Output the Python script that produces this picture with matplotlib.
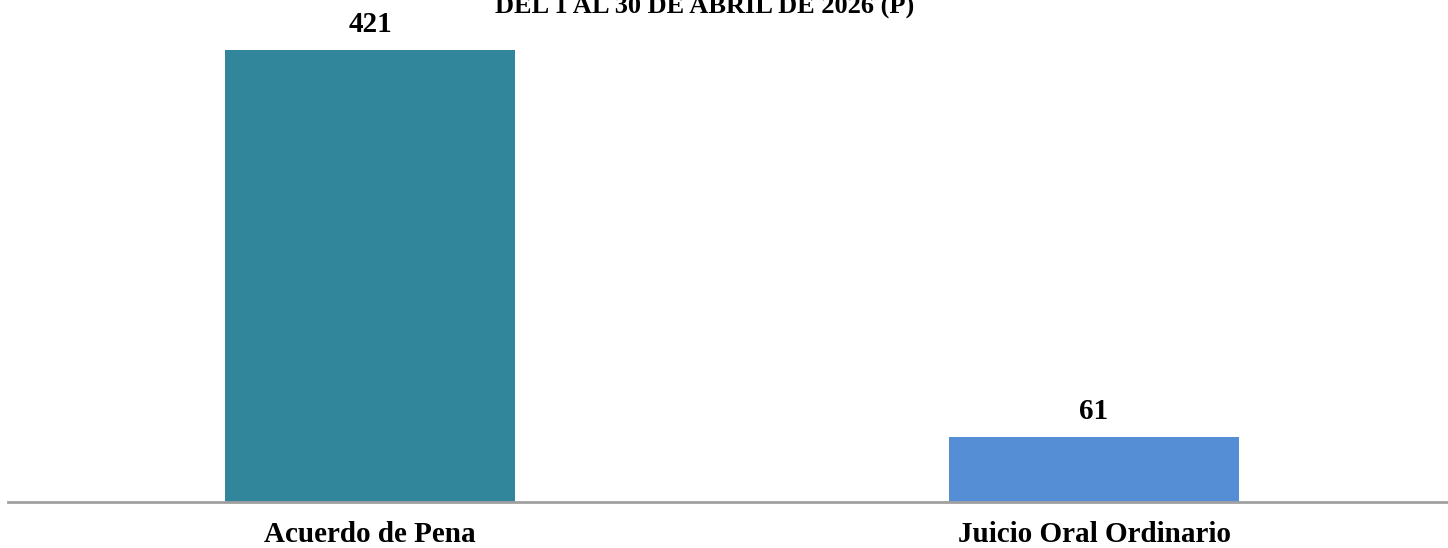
import matplotlib
matplotlib.use("Agg")
import matplotlib.pyplot as plt

categories = ["Acuerdo de Pena", "Juicio Oral Ordinario"]
values = [421, 61]
colors = ["#32869C", "#558ED5"]
title = "DEL 1 AL 30 DE ABRIL DE 2026 (P)"

W, H = 1448, 548
fig = plt.figure(figsize=(W / 100, H / 100), dpi=100)
plt.rcParams["font.family"] = ["Liberation Serif", "DejaVu Serif"]

# axes: baseline at y=502 px, left edge at x=8 px
ax = fig.add_axes([8 / W, 1 - 502 / H, 1448 / W, 502 / H])
x = list(range(len(categories)))
ax.bar(x, values, width=0.4, color=colors)
ax.set_xlim(-0.5, 1.5)
ax.set_ylim(0, values[0] * 502 / 452)

for s in ["top", "right", "left"]:
    ax.spines[s].set_visible(False)
ax.spines["bottom"].set_color("#A0A0A0")
ax.spines["bottom"].set_linewidth(2)
ax.set_yticks([])
ax.set_xticks([])

for xi, v, cat in zip(x, values, categories):
    ax.annotate(str(v), (xi, v), xytext=(0, 18), textcoords="offset pixels",
                ha="center", va="baseline", fontsize=21, fontweight="bold")
    ax.annotate(cat, (xi, 0), xycoords=("data", "axes fraction"),
                xytext=(0, -40), textcoords="offset pixels",
                ha="center", va="baseline", fontsize=21, fontweight="bold",
                annotation_clip=False)

# title sits partly above the top edge, as in the source image
fig.text(705 / W, 1 - 14 / H, title, ha="center", va="baseline",
         fontsize=19, fontweight="bold")

fig.savefig("out.png", dpi=100)
